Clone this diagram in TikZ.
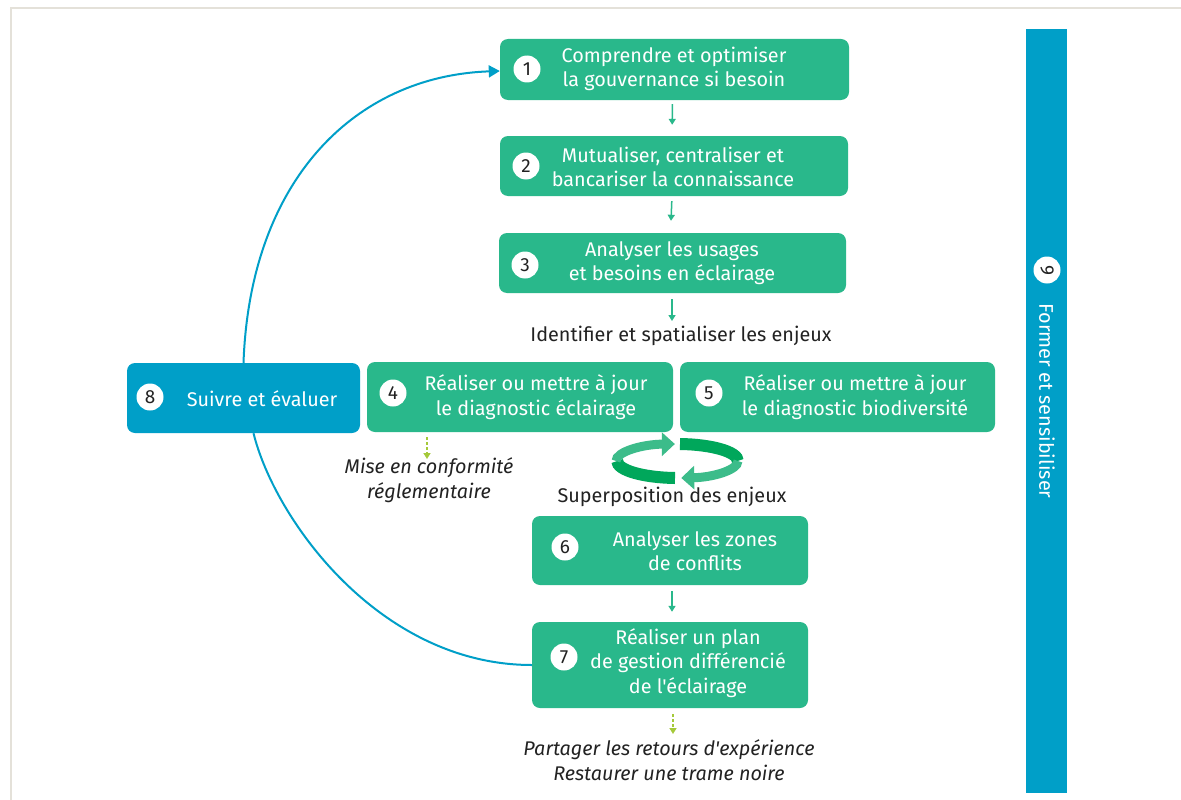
\documentclass[tikz,border=0pt]{standalone}
\usepackage{fontspec}
\setmainfont{Fira Sans}[Ligatures=TeXOff]
\usetikzlibrary{arrows.meta}
\definecolor{boxgreen}{HTML}{29B88B}
\definecolor{boxblue}{HTML}{009FC8}
\definecolor{ringdark}{HTML}{00A75B}
\definecolor{ringlight}{HTML}{3CBC8A}
\definecolor{dashgreen}{HTML}{A5C93A}
\definecolor{framegray}{HTML}{E4E1D9}
\definecolor{txt}{HTML}{222222}
\begin{document}
\begin{tikzpicture}[x=1pt,y=-1pt,
  gbox/.style={fill=boxgreen, draw=none, rounded corners=8pt, inner sep=0pt},
  bbox/.style={fill=boxblue, draw=none, rounded corners=8pt, inner sep=0pt},
  btext/.style={text=white, align=center, inner sep=0pt, font=\fontsize{19.8}{24.5}\selectfont},
  ltext/.style={text=txt, align=center, inner sep=0pt, font=\fontsize{19.8}{24.5}\selectfont},
  itext/.style={text=txt, align=center, inner sep=0pt, font=\fontsize{19.8}{24.5}\selectfont\itshape},
  numc/.style={circle, fill=white, draw=none, minimum size=27pt, inner sep=0pt, text=txt, font=\fontsize{19}{19}\selectfont},
  garrow/.style={draw=boxgreen, line width=1.5pt, -{Triangle[length=6pt,width=7pt]}},
  darrow/.style={draw=dashgreen, line width=1.6pt, dash pattern=on 3pt off 2pt, -{Triangle[length=6pt,width=7pt]}},
  barc/.style={draw=boxblue, line width=2pt},
  ring/.style={line width=#1, line cap=butt}
]
\useasboundingbox (0,0) rectangle (1181,800);
\fill[white] (0,0) rectangle (1181,800);
% frame lines
\draw[framegray, line width=2pt] (10.5,800) -- (10.5,8.5) -- (1181,8.5);

% boxes
\node[gbox, minimum width=349pt, minimum height=61pt] (b1) at (674.5,69.5) {};
\node[gbox, minimum width=348pt, minimum height=60pt] (b2) at (674,166) {};
\node[gbox, minimum width=347pt, minimum height=60pt] (b3) at (672.5,263) {};
\node[bbox, minimum width=233pt, minimum height=70pt] (b8) at (243.5,398) {};
\node[gbox, minimum width=306pt, minimum height=70pt] (b4) at (520,397) {};
\node[gbox, minimum width=315pt, minimum height=70pt] (b5) at (837.5,397) {};
\node[gbox, minimum width=276pt, minimum height=69pt] (b6) at (670,550.5) {};
\node[gbox, minimum width=276pt, minimum height=86pt] (b7) at (670,665) {};
\node[fill=boxblue, draw=none, inner sep=0pt, minimum width=41pt, minimum height=764pt] (b9) at (1046.5,411) {};

% numbers
\node[numc] (n1) at (527,69) {1};
\node[numc] (n2) at (526,166) {2};
\node[numc] (n3) at (525,265) {3};
\node[numc] (n8) at (150,397) {8};
\node[numc] (n4) at (393,393) {4};
\node[numc] (n5) at (709,393) {5};
\node[numc] (n6) at (565,547) {6};
\node[numc] (n7) at (564,657) {7};
\node[numc, rotate=-90] (n9) at (1047,270) {9};

% box texts
\node[btext] (t1) at (674,69) {Comprendre et optimiser\\la gouvernance si besoin};
\node[btext] (t2) at (673,167) {Mutualiser, centraliser et\\bancariser la connaissance};
\node[btext] (t3) at (672,263) {Analyser les usages\\et besoins en éclairage};
\node[btext] (t8) at (262,399) {Suivre et évaluer};
\node[btext] (t4) at (536,397) {Réaliser ou mettre à jour\\le diagnostic éclairage};
\node[btext] (t5) at (855,397) {Réaliser ou mettre à jour\\le diagnostic biodiversité};
\node[btext] (t6) at (695,551) {Analyser les zones\\de conflits};
\node[btext] (t7) at (688,663) {Réaliser un plan\\de gestion différencié\\de l'éclairage};
\node[btext, rotate=-90] (t9) at (1047,401) {Former et sensibiliser};

% labels
\node[ltext] (lid) at (681,336) {Identifier et spatialiser les enjeux};
\node[ltext] (lsup) at (672,497) {Superposition des enjeux};
\node[itext] (lmise) at (429,480) {Mise en conformité\\réglementaire};
\node[itext] (lpart) at (669,760) {Partager les retours d'expérience\\Restaurer une trame noire};

% green arrows
\draw[garrow, shorten <=4pt, shorten >=11pt] ([xshift=-2pt]b1.south) -- ([xshift=-2pt]b2.north);
\draw[garrow, shorten <=5pt, shorten >=12pt] ([xshift=-2pt]b2.south) -- ([xshift=-2pt]b3.north);
\coordinate (a3s) at (672,299);
\coordinate (a3e) at (672,321);
\draw[garrow] (a3s) -- (a3e);
\coordinate (a6s) at (672,591);
\coordinate (a6e) at (672,612);
\draw[garrow, shorten <=6pt, shorten >=10pt] (b6.south -| a6s) -- (b7.north -| a6e);

% dashed arrows
\coordinate (d4s) at (427,437);
\coordinate (d4e) at (427,459);
\draw[darrow] (d4s) -- (d4e);
\coordinate (d7s) at (673,714);
\coordinate (d7e) at (673,734);
\draw[darrow] (d7s) -- (d7e);

% blue arcs
\draw[barc, -{Triangle[length=11pt,width=12pt]}] (b8.north) .. controls (250,180) and (355,76) .. ([yshift=-1.5pt]b1.west);
\draw[barc] ([xshift=10pt]b8.south) .. controls (275,520) and (380,665) .. (b7.west);

% ring arrows
\draw[ringdark, ring=12pt] (675,478) arc[start angle=93, end angle=180, x radius=61, y radius=17];
\draw[ringlight, ring=9pt, -{Triangle[length=13pt,width=23pt]}] (616,461) arc[start angle=180, end angle=268, x radius=61, y radius=17];
\draw[ringdark, ring=12pt] (680,444) arc[start angle=-87, end angle=0, x radius=61, y radius=17];
\draw[ringlight, ring=9pt, -{Triangle[length=13pt,width=23pt]}] (738,461) arc[start angle=0, end angle=86, x radius=61, y radius=17];
\end{tikzpicture}
\end{document}
